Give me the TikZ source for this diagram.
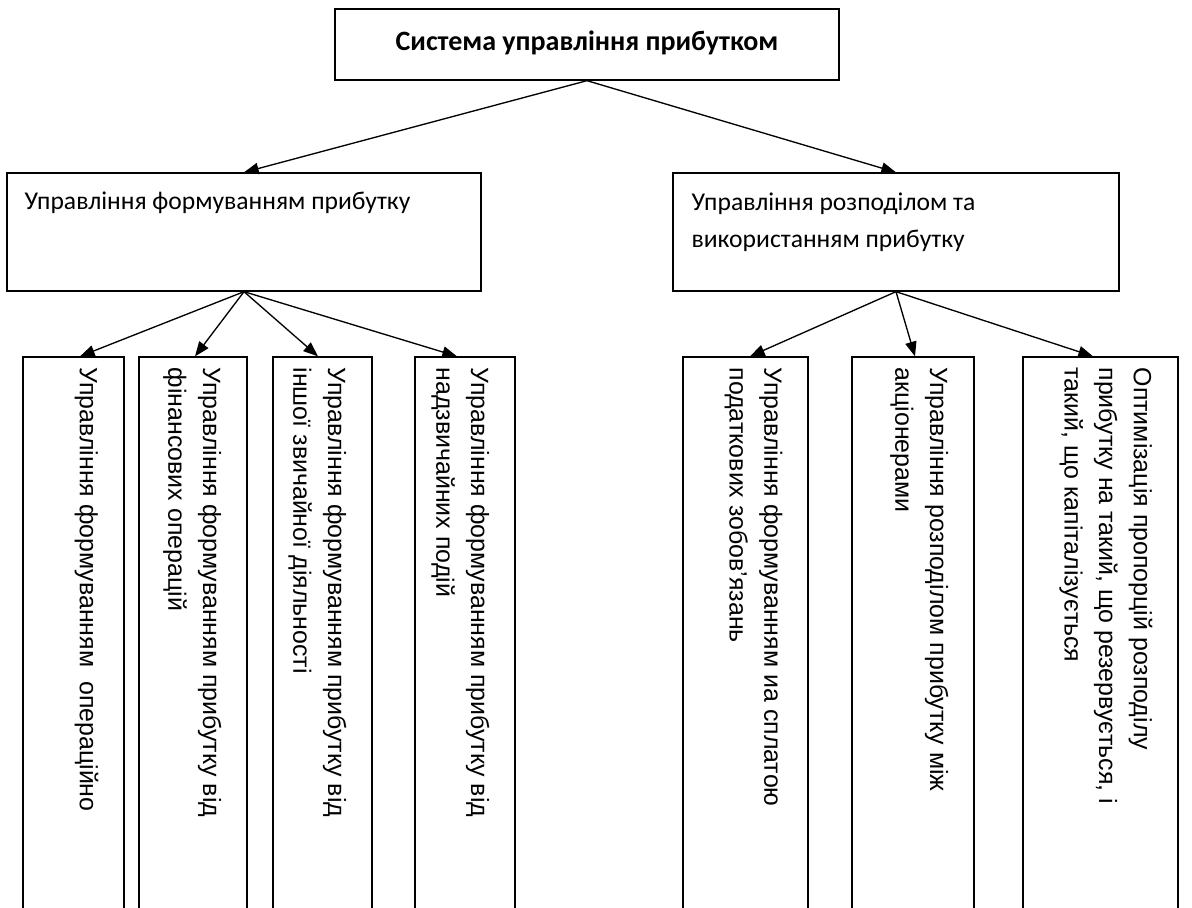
\documentclass[tikz,border=0pt]{standalone}
\usepackage{fontspec}
\setmainfont{Carlito}
\newfontfamily\vfont{Liberation Sans}
\usetikzlibrary{arrows.meta}
\tikzset{
  box/.style={draw=black, line width=1pt, inner sep=0pt, fill=white},
  htext/.style={inner sep=0pt, anchor=north west, align=left, font=\fontsize{19.2pt}{27.75pt}\selectfont},
  vtext/.style={inner sep=0pt, anchor=north west, align=left, rotate=-90, font=\vfont\fontsize{18.7pt}{26pt}\selectfont},
  conn/.style={line width=1pt, -{Triangle[length=11pt,width=8.5pt]}}
}
\begin{document}
\begin{tikzpicture}[x=0.75pt,y=-0.75pt]
\useasboundingbox (0,0) rectangle (1192,907);
\clip (0,0) rectangle (1192,907);
% top
\node[box, minimum width=378pt, minimum height=53.25pt] (top) at (587,44.5) {};
\node[inner sep=0pt, font=\bfseries\fontsize{21pt}{24pt}\selectfont] (toptext) at (587,43) {Система управління прибутком};
% middle
\node[box, minimum width=355.5pt, minimum height=88.5pt] (lm) at (244,232) {};
\node[htext] (lmtext) at ([xshift=13.5pt,yshift=-14.25pt]lm.north west) {Управління формуванням прибутку};
\node[box, minimum width=334.5pt, minimum height=88.5pt] (rm) at (896,232) {};
\node[htext] (rmtext) at ([xshift=14.25pt,yshift=-15pt]rm.north west) {Управління розподілом та\\використанням прибутку};
% bottom boxes
\node[box, minimum width=75.75pt, minimum height=429.75pt] (b1) at (73.5,643.5) {};
\node[box, minimum width=81pt, minimum height=429.75pt] (b2) at (193,643.5) {};
\node[box, minimum width=74.25pt, minimum height=429.75pt] (b3) at (322.5,643.5) {};
\node[box, minimum width=75pt, minimum height=429.75pt] (b4) at (465,643.5) {};
\node[box, minimum width=93.75pt, minimum height=429.75pt] (b5) at (745.5,643.5) {};
\node[box, minimum width=91.5pt, minimum height=429.75pt] (b6) at (913,643.5) {};
\node[box, minimum width=116.25pt, minimum height=429.75pt] (b7) at (1100.5,643.5) {};
% vertical texts
\node[vtext] (t1) at ([xshift=-19.5pt,yshift=-8.25pt]b1.north east) {Управління формуванням\ \ операційно};
\node[vtext] (t2) at ([xshift=-19.5pt,yshift=-8.25pt]b2.north east) {Управління формуванням прибутку від\\фінансових операцій};
\node[vtext] (t3) at ([xshift=-19.5pt,yshift=-8.25pt]b3.north east) {Управління формуванням прибутку від\\іншої звичайної діяльності};
\node[vtext] (t4) at ([xshift=-19.5pt,yshift=-8.25pt]b4.north east) {Управління формуванням прибутку від\\надзвичайних подій};
\node[vtext] (t5) at ([xshift=-19.5pt,yshift=-8.25pt]b5.north east) {Управління формуванням иа сплатою\\податкових зобов’язань};
\node[vtext] (t6) at ([xshift=-19.5pt,yshift=-8.25pt]b6.north east) {Управління розподілом прибутку між\\акціонерами};
\node[vtext] (t7) at ([xshift=-19.5pt,yshift=-8.25pt]b7.north east) {Оптимізація пропорцій розподілу\\прибутку на такий, що резервується, і\\такий, що капіталізується};
% connectors
\draw[conn] (top.south) -- (lm.north);
\draw[conn] (top.south) -- (rm.north);
\draw[conn] (lm.south) -- ([xshift=4.875pt]b1.north);
\draw[conn] (lm.south) -- ([xshift=1.5pt]b2.north);
\draw[conn] (lm.south) -- ([xshift=-3.375pt]b3.north);
\draw[conn] (lm.south) -- ([xshift=-6pt]b4.north);
\draw[conn] (rm.south) -- ([xshift=3.375pt]b5.north);
\draw[conn] (rm.south) -- ([xshift=1.5pt]b6.north);
\draw[conn] (rm.south) -- ([xshift=-5.625pt]b7.north);
\end{tikzpicture}
\end{document}
